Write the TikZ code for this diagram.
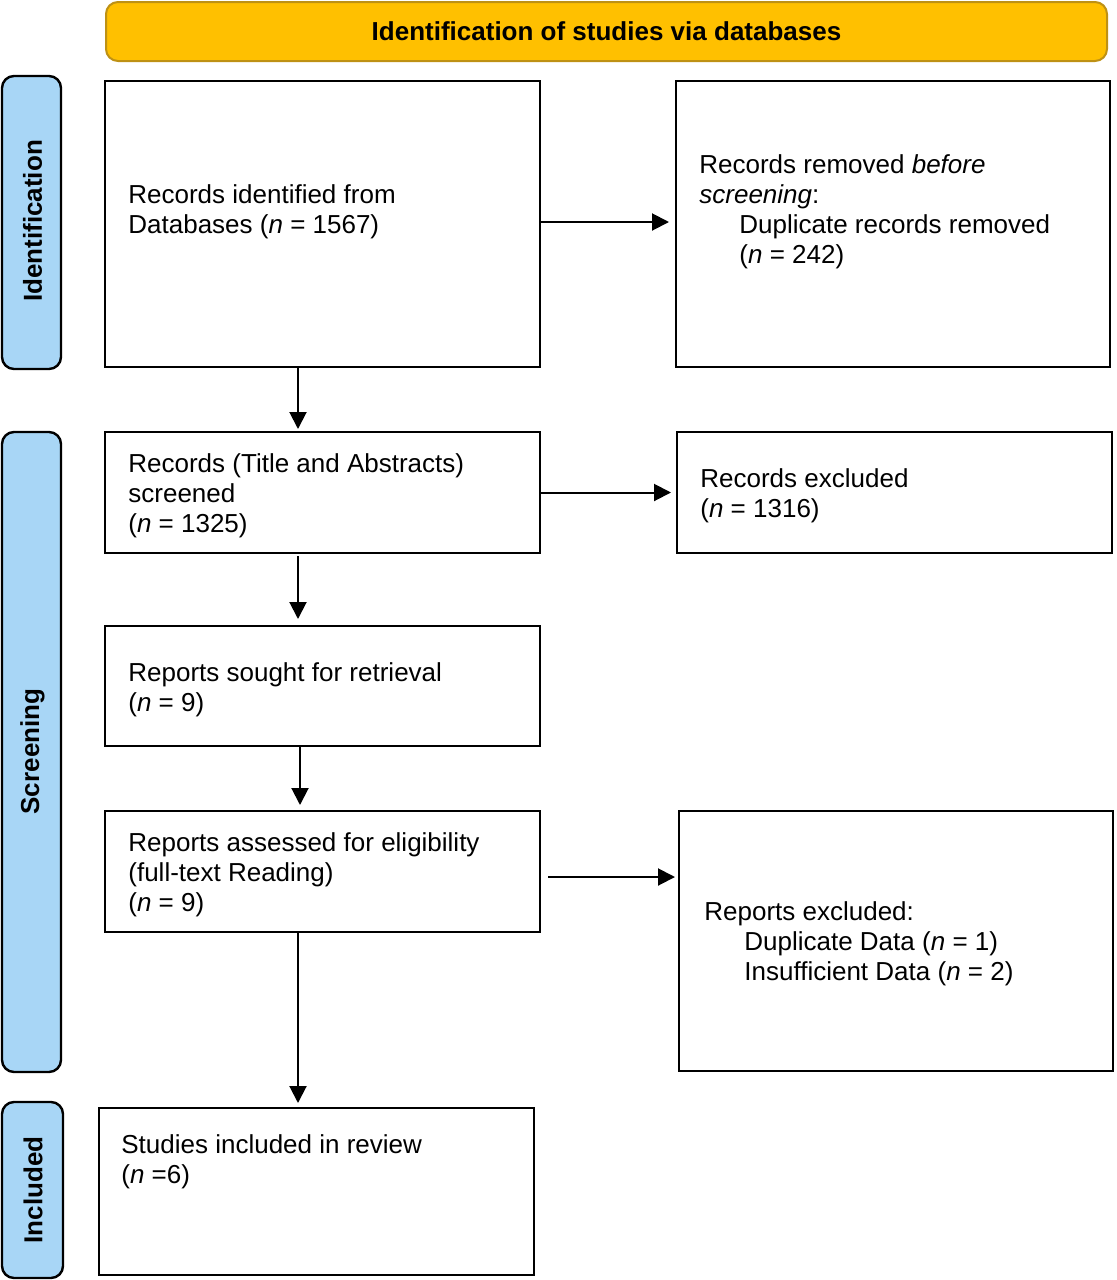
\documentclass[tikz,border=0pt]{standalone}
\usepackage{fontspec}
\setmainfont{Liberation Sans}
\usetikzlibrary{arrows.meta}
\definecolor{bannerfill}{RGB}{255,192,0}
\definecolor{bannerdraw}{RGB}{190,145,20}
\definecolor{sideblue}{RGB}{168,214,246}
\begin{document}
\begin{tikzpicture}[x=0.5pt,y=-0.5pt,
  box/.style={draw=black, line width=1pt, fill=white, inner sep=0pt},
  txt/.style={anchor=west, align=left, inner sep=0pt, font=\fontsize{13}{15}\selectfont},
  side/.style={draw=black, line width=1.2pt, fill=sideblue, rounded corners=6pt, inner sep=0pt},
  sidetxt/.style={rotate=90, inner sep=0pt, font=\fontsize{13}{15}\selectfont\bfseries},
  banner/.style={draw=bannerdraw, line width=1pt, fill=bannerfill, rounded corners=6pt, inner sep=0pt, font=\fontsize{13}{15}\selectfont\bfseries},
  arr/.style={-{Triangle[length=8.5pt,width=8.5pt]}, line width=1pt}]
\useasboundingbox (0,0) rectangle (1116,1280);

% banner
\node[banner, minimum width=500.5pt, minimum height=29.5pt] (banner) at (606.5,31.5) {Identification of studies via databases};

% side labels
\node[side, minimum width=29.5pt, minimum height=146.5pt] (s1) at (31.5,222.5) {};
\node[sidetxt] (s1t) at (32.5,221) {Identification};
\node[side, minimum width=29.5pt, minimum height=320pt] (s2) at (31.5,752) {};
\node[sidetxt] (s2t) at (32.5,751.5) {Screening};
\node[side, minimum width=30.5pt, minimum height=88pt] (s3) at (32.5,1190) {};
\node[sidetxt] (s3t) at (33,1190) {Included};

% boxes
\node[box, minimum width=217.5pt, minimum height=143pt] (b1) at (322.5,224) {};
\node[box, minimum width=217pt, minimum height=143pt] (b2) at (893,224) {};
\node[box, minimum width=217.5pt, minimum height=60.5pt] (b3) at (322.5,492.5) {};
\node[box, minimum width=217.5pt, minimum height=60.5pt] (b4) at (894.5,492.5) {};
\node[box, minimum width=217.5pt, minimum height=60pt] (b5) at (322.5,686) {};
\node[box, minimum width=217.5pt, minimum height=60.5pt] (b6) at (322.5,871.5) {};
\node[box, minimum width=217pt, minimum height=130pt] (b7) at (896,941) {};
\node[box, minimum width=217.5pt, minimum height=83.5pt] (b8) at (316.5,1191.5) {};

% texts
\node[txt] (t1) at (128,212) {Records identified from\\Databases (\textit{n} = 1567)};
\node[txt] (t2) at (699,212) {Records removed \textit{before}\\\textit{screening}:\\\hspace*{20pt}Duplicate records removed\\\hspace*{20pt}(\textit{n} = 242)};
\node[txt] (t3) at (128,496) {Records (Title and Abstracts)\\screened\\(\textit{n} = 1325)};
\node[txt] (t4) at (700,496) {Records excluded\\(\textit{n} = 1316)};
\node[txt] (t5) at (128,690) {Reports sought for retrieval\\(\textit{n} = 9)};
\node[txt] (t6) at (128,875) {Reports assessed for eligibility\\(full-text Reading)\\(\textit{n} = 9)};
\node[txt] (t7) at (704,944) {Reports excluded:\\\hspace*{20pt}Duplicate Data (\textit{n} = 1)\\\hspace*{20pt}Insufficient Data (\textit{n} = 2)};
\node[txt] (t8) at (121,1162) {Studies included in review\\(\textit{n} =6)};

% horizontal arrows
\draw[arr, shorten >=3pt] ([yshift=1pt]b1.east) -- ([yshift=1pt]b2.west);
\draw[arr, shorten >=2.5pt] (b3.east) -- (b4.west);
\coordinate (a6) at ([xshift=3.5pt,yshift=-2.75pt]b6.east);
\draw[arr, shorten >=1.5pt] (a6) -- (a6 -| b7.west);

% vertical arrows
\draw[arr, shorten >=1pt] ([xshift=-12.25pt]b1.south) -- ([xshift=-12.25pt]b3.north);
\draw[arr, shorten <=1pt, shorten >=3pt] ([xshift=-12.25pt]b3.south) -- ([xshift=-12.25pt]b5.north);
\draw[arr, shorten >=2.5pt] ([xshift=-11.25pt]b5.south) -- ([xshift=-11.25pt]b6.north);
\draw[arr, shorten >=2pt] ([xshift=-12.25pt]b6.south) -- ([xshift=-12.25pt]b6.south |- b8.north);
\end{tikzpicture}
\end{document}
